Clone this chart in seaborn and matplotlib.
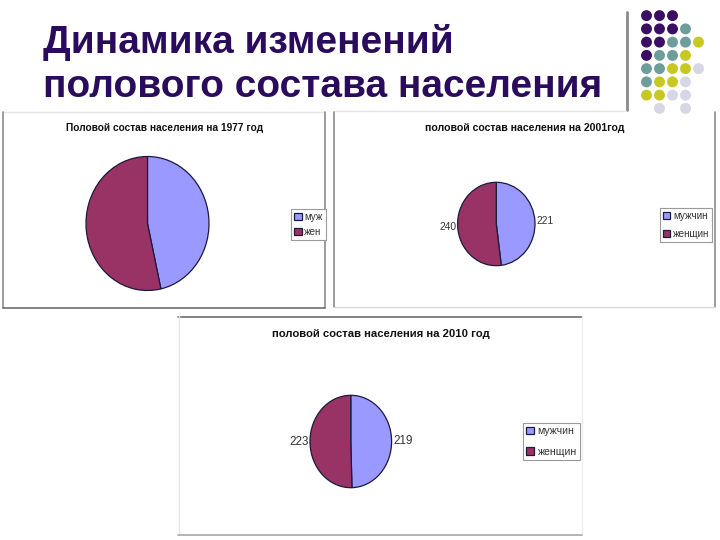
import matplotlib
matplotlib.use("Agg")
import matplotlib.pyplot as plt
from matplotlib.lines import Line2D
import seaborn as sns

sns.set_theme(style="white")
plt.rcParams['font.family'] = ['Liberation Sans', 'DejaVu Sans']

# ---------------- data ----------------
title_lines = ["Динамика изменений", "полового состава населения"]

titles = ["Половой состав населения на 1977 год",
          "половой состав населения на 2001год",
          "половой состав населения на 2010 год"]
labels_1977 = ["муж", "жен"]
values_1977 = [46.5, 53.5]          # no numbers shown; shares
labels_2001 = ["мужчин", "женщин"]
values_2001 = [221, 240]
labels_2010 = ["мужчин", "женщин"]
values_2010 = [219, 223]
show_values = [False, True, True]

pie_colors = ["#9999FF", "#993366"]

# decorative dot grid (P=purple, T=teal, Y=yellow, L=lavender)
dot_rows = ["PPP..",
            "PPPT.",
            "PPTTY",
            "PTTY.",
            "TTYYL",
            "TYYL.",
            "YYLL.",
            ".L.L."]
dot_colors = {"P": "#3A0E62", "T": "#6E9E9C", "Y": "#C8C824", "L": "#D6D6E6"}

# ---------------- layout ----------------
W, H = 720, 540
fig = plt.figure(figsize=(7.2, 5.4), dpi=100)
fig.patch.set_facecolor("white")


def fbox(x0, y0, x1, y1):
    return [x0 / W, 1 - y1 / H, (x1 - x0) / W, (y1 - y0) / H]


def fx(x):
    return x / W


def fy(y):
    return 1 - y / H


def hline(x0, x1, y, color, lw=1.2):
    fig.add_artist(Line2D([fx(x0), fx(x1)], [fy(y), fy(y)], color=color, lw=lw))


def vline(x, y0, y1, color, lw=1.2):
    fig.add_artist(Line2D([fx(x), fx(x)], [fy(y0), fy(y1)], color=color, lw=lw))


# main title
title_color = "#2B0B5C"
fig.text(fx(43), fy(52.7), title_lines[0], fontsize=28, fontweight="bold",
         color=title_color, ha="left", va="baseline")
fig.text(fx(43), fy(97.3), title_lines[1], fontsize=28, fontweight="bold",
         color=title_color, ha="left", va="baseline")

# decorative vertical line
vline(627, 12, 110, "#8A8A8A", lw=2)

# decorative dots
axd = fig.add_axes(fbox(640, 9, 705, 115))
xs, ys, cs = [], [], []
for r, row in enumerate(dot_rows):
    for c, ch in enumerate(row):
        if ch != ".":
            xs.append(c)
            ys.append(r)
            cs.append(dot_colors[ch])
axd.scatter(xs, ys, c=cs, s=62, edgecolors="none")
axd.set_xlim(-0.5, 4.5)
axd.set_ylim(7.5, -0.5)
axd.axis("off")

# panel frames
g = "#8C8C8C"
# panel 1
hline(3, 325, 112, "#E4E4E4", 1.0)
vline(3, 112, 308, g)
vline(325, 112, 308, g)
hline(3, 325, 308, "#6E6E6E")
# panel 2
hline(334, 626, 110.5, "#E6E6E6", 1.0)
vline(334, 112, 307, g)
vline(715, 112, 307, g)
hline(334, 715, 307, "#D8D8D8", 1.0)
# panel 3
hline(178, 582, 316.5, "#6E6E6E")
vline(179, 316, 535, "#E8E8E8", 1.0)
vline(582, 316, 535, "#EEEEEE", 1.0)
hline(178, 582, 535, "#A8A8A8")

# pies
pies = [
    dict(center=(147.5, 223.5), rx=61.5, ry=67.0, vals=values_1977, labs=labels_1977,
         title_xy=(165, 128), title_fs=7.25, leg_xy=(308.5, 224.2), leg_fs=7.0,
         leg_ls=0.55, leg_bp=0.3, lab_fs=7.5),
    dict(center=(496.3, 224.0), rx=38.7, ry=41.7, vals=values_2001, labs=labels_2001,
         title_xy=(525, 128), title_fs=7.6, leg_xy=(686, 225), leg_fs=7.1,
         leg_ls=0.8, leg_bp=0.3, lab_fs=7.4),
    dict(center=(350.8, 441.5), rx=40.8, ry=46.2, vals=values_2010, labs=labels_2010,
         title_xy=(381, 334), title_fs=8.1, leg_xy=(551.3, 441.5), leg_fs=7.6,
         leg_ls=1.0, leg_bp=0.32, lab_fs=8.4),
]

for i, p in enumerate(pies):
    cx, cy = p["center"]
    ax = fig.add_axes(fbox(cx - p["rx"], cy - p["ry"], cx + p["rx"], cy + p["ry"]))
    txt = [str(v) for v in p["vals"]] if show_values[i] else None
    wedges, *rest = ax.pie(p["vals"], labels=txt, colors=pie_colors, startangle=90,
                           counterclock=False, labeldistance=1.04,
                           wedgeprops=dict(edgecolor="#1A1A3A", linewidth=0.9),
                           textprops=dict(fontsize=p["lab_fs"], color="#333333"))
    ax.set_aspect("auto")
    ax.set_xlim(-1.0, 1.0)
    ax.set_ylim(-1.0, 1.0)
    ax.axis("off")
    for t in (rest[0] if rest else []):
        t.set_va("center")

    fig.text(fx(p["title_xy"][0]), fy(p["title_xy"][1]), titles[i], fontsize=p["title_fs"],
             fontweight="bold", color="#111111", ha="center", va="center")

    leg = fig.legend(wedges, p["labs"], loc="center",
                     bbox_to_anchor=(fx(p["leg_xy"][0]), fy(p["leg_xy"][1])),
                     fontsize=p["leg_fs"], frameon=True, fancybox=False,
                     handlelength=0.75, handleheight=0.75, handletextpad=0.3,
                     borderpad=p["leg_bp"], labelspacing=p["leg_ls"], borderaxespad=0,
                     framealpha=1)
    leg.get_frame().set_edgecolor("#9A9A9A")
    leg.get_frame().set_linewidth(0.8)
    for t in leg.get_texts():
        t.set_color("#333333")

fig.savefig("out.png", dpi=100, facecolor="white")
